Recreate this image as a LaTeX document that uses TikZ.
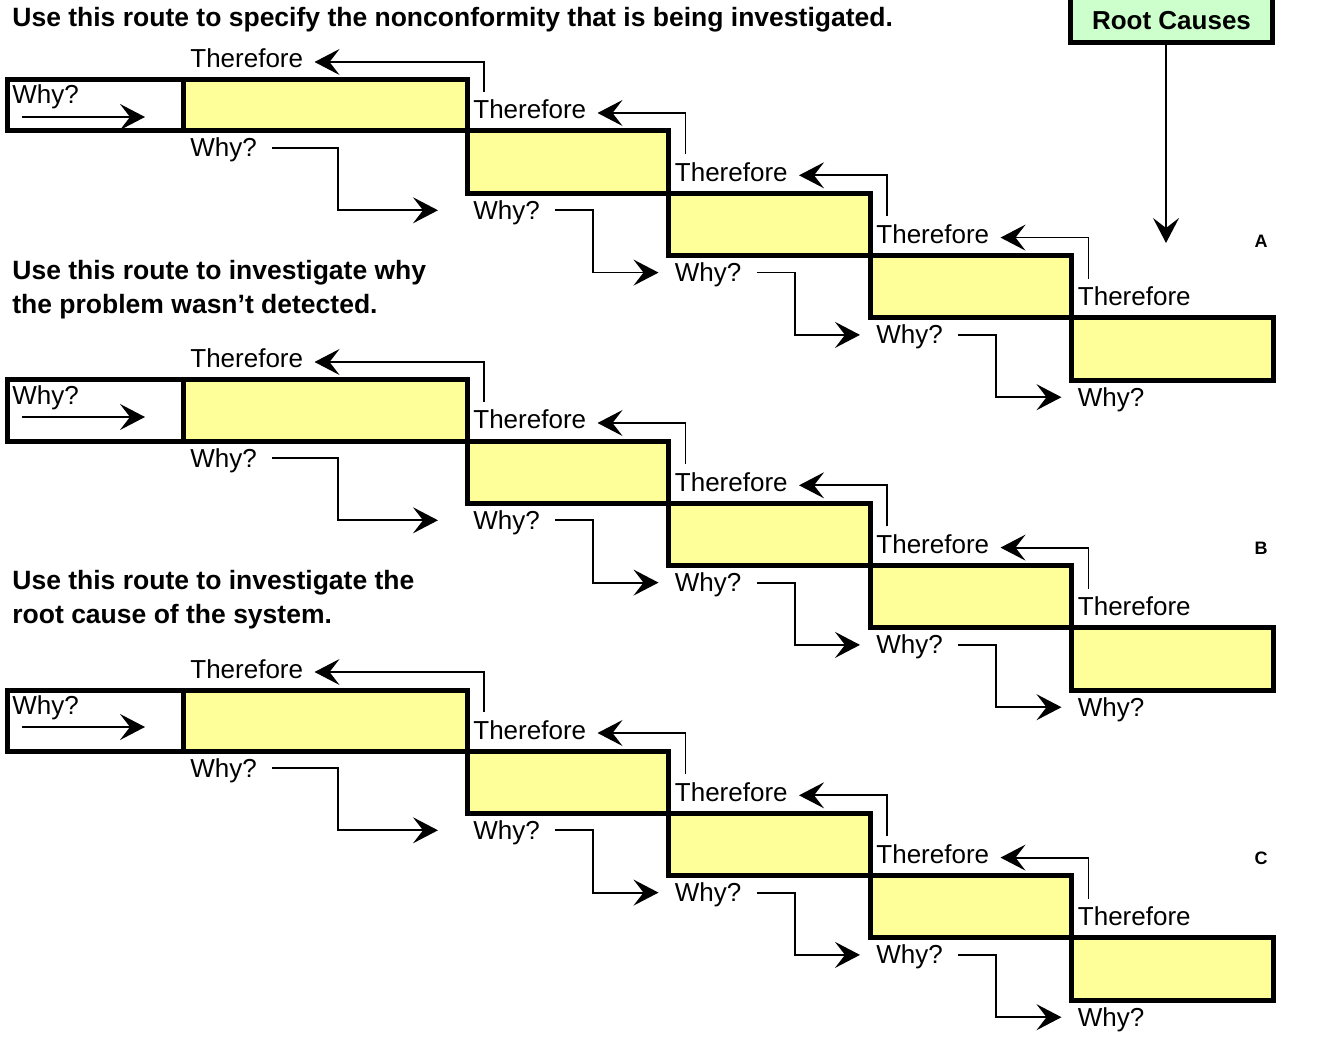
\documentclass[tikz,border=0pt]{standalone}
\usepackage{fontspec}
\setmainfont{Liberation Sans}
\usetikzlibrary{arrows.meta,calc}
\definecolor{boxyellow}{RGB}{255,255,153}
\definecolor{rootgreen}{RGB}{204,255,204}
\tikzset{
  stepline/.style={line width=2.5pt, line join=miter},
  link/.style={line width=0.9pt, -{Stealth[length=12.5pt,width=13pt,inset=5pt]}},
  lbl/.style={anchor=base west, inner sep=0pt, font=\fontsize{13}{15}\selectfont},
  heading/.style={anchor=base west, inner sep=0pt, font=\bfseries\fontsize{13.25}{15}\selectfont},
  grp/.style={inner sep=0pt, font=\bfseries\fontsize{9}{11}\selectfont},
}
\begin{document}
\begin{tikzpicture}[x=0.5pt,y=-0.5pt]
\useasboundingbox (0,0) rectangle (1332,1037);
%route headings
\node[heading] (head1) at (12,27) {Use this route to specify the nonconformity that is being investigated.};
\node[heading] (head2) at (12,280) {Use this route to investigate why};
\node[heading] (head2b) at (12,314) {the problem wasn’t detected.};
\node[heading] (head3) at (12,589) {Use this route to investigate the};
\node[heading] (head3b) at (12,623) {root cause of the system.};
%root causes
\node[draw, line width=2.5pt, fill=rootgreen, minimum width=101pt, minimum height=22.5pt,
  inner sep=0pt, font=\bfseries\fontsize{13}{15}\selectfont] (root) at (1171.5,20.5) {Root Causes};
\coordinate (rootTip) at (1166,243);
\draw[link] ($(root.south)+(-5.5,0)$) -- (rootTip);
%three staircases
\foreach \g/\ytop/\hA/\gy in {A/80/51/241, B/380/61/548, C/690/61/858}{
  \pgfmathsetmacro\yrow{\ytop+\hA}
  \fill[boxyellow] (183,\ytop) rectangle (467,\yrow);
  \foreach \i in {2,...,5}
    \fill[boxyellow] ({467+201.5*(\i-2)},{\yrow+62.3*(\i-2)}) rectangle ++(201.5,62.3);
  \draw[stepline] (7,\ytop) rectangle (467,\yrow) (183,\ytop) -- (183,\yrow);
  \foreach \i in {2,...,5}
    \draw[stepline] ({467+201.5*(\i-2)},{\yrow+62.3*(\i-2)}) rectangle ++(201.5,62.3);
  \node[grp] (G\g) at (1261,\gy) {\g};
  \node[lbl] (Y\g) at (12,\ytop+24) {Why?};
  \draw[link] ($(Y\g.base west)+(10,13)$) -- ++(123,0);
  \foreach \i in {1,...,5}{
    \pgfmathsetmacro\lbx{\i==1 ? 190 : 473+201.5*(\i-2)}
    \pgfmathsetmacro\ya{\i==1 ? \ytop : \yrow+62.3*(\i-2)}
    \pgfmathsetmacro\yb{\i==1 ? \yrow : \ya+62.3}
    \node[lbl] (T\g\i) at (\lbx,\ya-12) {Therefore};
    \node[lbl] (W\g\i) at (\lbx,\yb+26) {Why?};
  }
  \foreach \i in {1,...,4}{
    \pgfmathtruncatemacro\nxt{\i+1}
    \pgfmathsetmacro\wb{\i==1 ? 66 : 38}
    \pgfmathsetmacro\we{\i==1 ? 35 : 16}
    \draw[link] ($(T\g\nxt.north west)+(11,-8)$) |- ($(T\g\i.base east)+(11,-6)$);
    \draw[link] ($(W\g\i.base east)+(15,-9)$) -- ++(\wb,0) |- ($(W\g\nxt.base west)+(-\we,-9)$);
  }
}
\end{tikzpicture}
\end{document}
